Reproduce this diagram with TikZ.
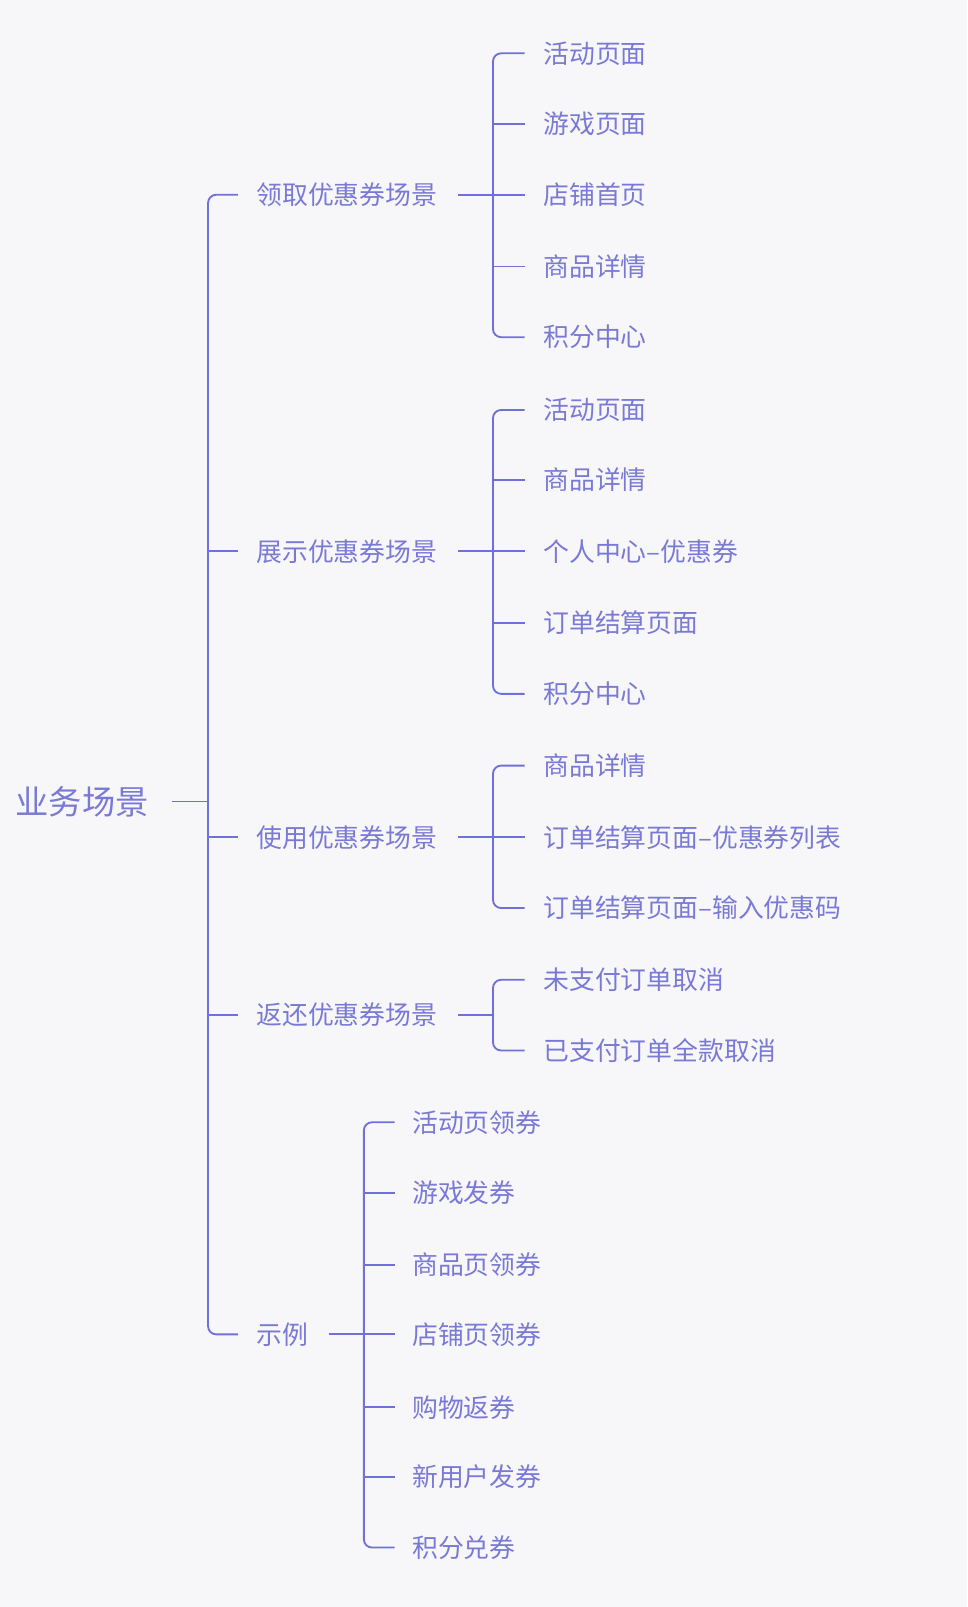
\documentclass[tikz,border=0pt]{standalone}
\usepackage{fontspec}
\newfontfamily\cjk{Noto Sans CJK SC}
\usetikzlibrary{positioning}
\definecolor{bgc}{RGB}{247,247,249}
\definecolor{txtc}{RGB}{122,122,214}
\definecolor{linec}{RGB}{112,112,218}
\tikzset{
  topic/.style={anchor=west,inner sep=0pt,text=txtc,font=\cjk\fontsize{25.2}{30}\selectfont},
  rootnode/.style={topic,font=\cjk\fontsize{32.5}{38}\selectfont},
  link/.style={draw=linec,line width=1.8pt,rounded corners=8pt}
}
\begin{document}
\begin{tikzpicture}[x=1pt,y=-1pt]
    \fill[bgc] (0,0) rectangle (944,1568);
    \useasboundingbox (0,0) rectangle (944,1568);

    \node[rootnode] (root) at (15,782) {业务场景};

    \node[topic] (s1) at (250,190) {领取优惠券场景};
    \node[topic] (s2) at (250,538) {展示优惠券场景};
    \node[topic] (s3) at (250,817) {使用优惠券场景};
    \node[topic] (s4) at (250,990) {返还优惠券场景};
    \node[topic] (s5) at (250,1302) {示例};

    \node[topic] (a1) at (530,52) {活动页面};
    \node[topic] (a2) at (530,121) {游戏页面};
    \node[topic] (a3) at (530,190) {店铺首页};
    \node[topic] (a4) at (530,260) {商品详情};
    \node[topic] (a5) at (530,329) {积分中心};

    \node[topic] (b1) at (530,400) {活动页面};
    \node[topic] (b2) at (530,468) {商品详情};
    \node[topic] (b3) at (530,538) {个人中心–优惠券};
    \node[topic] (b4) at (530,608) {订单结算页面};
    \node[topic] (b5) at (530,677) {积分中心};

    \node[topic] (c1) at (530,747) {商品详情};
    \node[topic] (c2) at (530,817) {订单结算页面–优惠券列表};
    \node[topic] (c3) at (530,886) {订单结算页面–输入优惠码};

    \node[topic] (d1) at (530,956) {未支付订单取消};
    \node[topic] (d2) at (530,1025) {已支付订单全款取消};

    \node[topic] (e1) at (402,1095) {活动页领券};
    \node[topic] (e2) at (402,1164) {游戏发券};
    \node[topic] (e3) at (402,1234) {商品页领券};
    \node[topic] (e4) at (402,1302) {店铺页领券};
    \node[topic] (e5) at (402,1373) {购物返券};
    \node[topic] (e6) at (402,1441) {新用户发券};
    \node[topic] (e7) at (402,1510) {积分兑券};

    \coordinate (j0) at ([xshift=-47]s1.west);
    \coordinate (j1) at ([xshift=-49]a1.west);
    \coordinate (j2) at ([xshift=-49]b1.west);
    \coordinate (j3) at ([xshift=-49]c1.west);
    \coordinate (j4) at ([xshift=-49]d1.west);
    \coordinate (j5) at ([xshift=-47]e1.west);

    % trunk
    \draw[link] ([xshift=-18]s1.west) -- (j0) -- (s5.west -| j0) -- ([xshift=-18]s5.west);
    \foreach \n in {s2,s3,s4}
        \draw[link] (\n.west -| j0) -- ([xshift=-18]\n.west);
    \draw[link] ([xshift=22]root.east) -- (root.east -| j0);

    % branches
    \draw[link] ([xshift=-18]a1.west) -- (j1) -- (a5.west -| j1) -- ([xshift=-18]a5.west);
    \foreach \n in {a2,a3,a4}
        \draw[link] (\n.west -| j1) -- ([xshift=-18]\n.west);
    \draw[link] ([xshift=20]s1.east) -- (s1.east -| j1);

    \draw[link] ([xshift=-18]b1.west) -- (j2) -- (b5.west -| j2) -- ([xshift=-18]b5.west);
    \foreach \n in {b2,b3,b4}
        \draw[link] (\n.west -| j2) -- ([xshift=-18]\n.west);
    \draw[link] ([xshift=20]s2.east) -- (s2.east -| j2);

    \draw[link] ([xshift=-18]c1.west) -- (j3) -- (c3.west -| j3) -- ([xshift=-18]c3.west);
    \draw[link] (c2.west -| j3) -- ([xshift=-18]c2.west);
    \draw[link] ([xshift=20]s3.east) -- (s3.east -| j3);

    \draw[link] ([xshift=-18]d1.west) -- (j4) -- (d2.west -| j4) -- ([xshift=-18]d2.west);
    \draw[link] ([xshift=20]s4.east) -- (s4.east -| j4);

    \draw[link] ([xshift=-17]e1.west) -- (j5) -- (e7.west -| j5) -- ([xshift=-17]e7.west);
    \foreach \n in {e2,e3,e4,e5,e6}
        \draw[link] (\n.west -| j5) -- ([xshift=-17]\n.west);
    \draw[link] ([xshift=20]s5.east) -- (s5.east -| j5);
\end{tikzpicture}
\end{document}
